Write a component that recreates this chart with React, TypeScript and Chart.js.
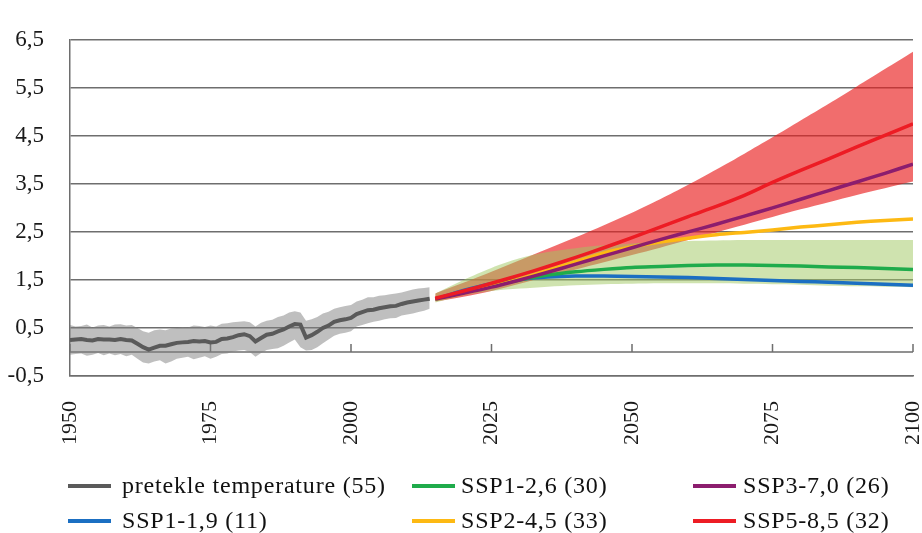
import React, { useEffect, useRef } from 'react';
import { Chart, registerables } from 'chart.js';

Chart.register(...registerables);

// ---------- data ----------
const histYears = [
  1950, 1951, 1952, 1953, 1954, 1955, 1956, 1957, 1958, 1959,
  1960, 1961, 1962, 1963, 1964, 1965, 1966, 1967, 1968, 1969,
  1970, 1971, 1972, 1973, 1974, 1975, 1976, 1977, 1978, 1979,
  1980, 1981, 1982, 1983, 1984, 1985, 1986, 1987, 1988, 1989,
  1990, 1991, 1992, 1993, 1994, 1995, 1996, 1997, 1998, 1999,
  2000, 2001, 2002, 2003, 2004, 2005, 2006, 2007, 2008, 2009,
  2010, 2011, 2012, 2013, 2014,
];
const histMean = [
  0.25, 0.26, 0.27, 0.25, 0.24, 0.27, 0.26, 0.26, 0.25, 0.27,
  0.25, 0.24, 0.17, 0.10, 0.05, 0.09, 0.13, 0.13, 0.16, 0.19,
  0.20, 0.21, 0.23, 0.22, 0.23, 0.20, 0.21, 0.27, 0.28, 0.31,
  0.35, 0.37, 0.33, 0.22, 0.29, 0.36, 0.38, 0.43, 0.47, 0.53,
  0.58, 0.57, 0.30, 0.35, 0.42, 0.50, 0.55, 0.63, 0.66, 0.68,
  0.71, 0.79, 0.83, 0.87, 0.88, 0.91, 0.93, 0.95, 0.96, 1.00,
  1.03, 1.05, 1.07, 1.09, 1.11,
];
const histUpper = [
  0.56, 0.53, 0.54, 0.57, 0.51, 0.55, 0.56, 0.53, 0.57, 0.58,
  0.55, 0.56, 0.50, 0.43, 0.40, 0.45, 0.47, 0.45, 0.49, 0.50,
  0.52, 0.51, 0.55, 0.54, 0.52, 0.55, 0.53, 0.59, 0.60, 0.62,
  0.63, 0.64, 0.62, 0.53, 0.61, 0.65, 0.67, 0.73, 0.76, 0.82,
  0.85, 0.82, 0.65, 0.68, 0.73, 0.80, 0.84, 0.90, 0.93, 0.96,
  0.98, 1.05, 1.09, 1.14, 1.14, 1.17, 1.18, 1.20, 1.22, 1.24,
  1.27, 1.30, 1.32, 1.33, 1.35,
];
const histLower = [
  -0.06, -0.04, -0.03, -0.08, -0.06, -0.02, -0.07, -0.03, -0.07, -0.04,
  -0.09, -0.06, -0.14, -0.22, -0.24, -0.20, -0.17, -0.24, -0.20, -0.14,
  -0.12, -0.10, -0.15, -0.12, -0.09, -0.14, -0.10, -0.04, -0.03, 0.01,
  0.03, 0.04, 0.00, -0.10, -0.02, 0.04, 0.06, 0.08, 0.13, 0.20,
  0.26, 0.10, 0.03, 0.04, 0.10, 0.18, 0.26, 0.34, 0.38, 0.40,
  0.43, 0.53, 0.56, 0.60, 0.63, 0.65, 0.68, 0.70, 0.71, 0.76,
  0.78, 0.80, 0.83, 0.86, 0.90,
];

const projYears = [
  2015, 2020, 2025, 2030, 2035, 2040, 2045, 2050, 2055,
  2060, 2065, 2070, 2075, 2080, 2085, 2090, 2095, 2100,
];
const ssp119 = [1.10, 1.28, 1.42, 1.51, 1.56, 1.58, 1.58, 1.57, 1.56, 1.55, 1.53, 1.51, 1.49, 1.47, 1.45, 1.43, 1.41, 1.39];
const ssp126 = [1.10, 1.25, 1.38, 1.50, 1.60, 1.67, 1.72, 1.76, 1.78, 1.80, 1.81, 1.81, 1.80, 1.79, 1.77, 1.76, 1.74, 1.72];
const ssp245 = [1.10, 1.22, 1.36, 1.52, 1.70, 1.88, 2.06, 2.19, 2.29, 2.37, 2.44, 2.49, 2.54, 2.60, 2.65, 2.70, 2.74, 2.77];
const ssp370 = [1.10, 1.22, 1.35, 1.50, 1.66, 1.83, 2.00, 2.17, 2.34, 2.50, 2.66, 2.83, 3.00, 3.18, 3.36, 3.54, 3.72, 3.91];
const ssp585 = [1.12, 1.27, 1.43, 1.60, 1.78, 1.97, 2.17, 2.38, 2.60, 2.82, 3.03, 3.26, 3.53, 3.78, 4.02, 4.27, 4.51, 4.75];
const ssp126Upper = [1.22, 1.50, 1.75, 1.95, 2.08, 2.16, 2.22, 2.26, 2.29, 2.31, 2.32, 2.33, 2.33, 2.33, 2.33, 2.33, 2.33, 2.33];
const ssp126Lower = [1.03, 1.18, 1.27, 1.32, 1.36, 1.39, 1.41, 1.42, 1.43, 1.43, 1.43, 1.42, 1.41, 1.40, 1.38, 1.37, 1.36, 1.35];
const ssp585Upper = [1.22, 1.44, 1.67, 1.91, 2.15, 2.39, 2.64, 2.90, 3.18, 3.48, 3.80, 4.13, 4.47, 4.82, 5.17, 5.53, 5.89, 6.25];
const ssp585Lower = [1.05, 1.15, 1.27, 1.42, 1.57, 1.72, 1.87, 2.02, 2.17, 2.33, 2.49, 2.65, 2.81, 2.97, 3.12, 3.27, 3.41, 3.55];

const xTicks = [1950, 1975, 2000, 2025, 2050, 2075, 2100];
const yTicks = [-0.5, 0.5, 1.5, 2.5, 3.5, 4.5, 5.5, 6.5];
const yTickLabels = ['-0,5', '0,5', '1,5', '2,5', '3,5', '4,5', '5,5', '6,5'];

const legendLabels = [
  'pretekle temperature (55)',
  'SSP1-1,9 (11)',
  'SSP1-2,6 (30)',
  'SSP2-4,5 (33)',
  'SSP3-7,0 (26)',
  'SSP5-8,5 (32)',
];

// ---------- styles ----------
const C_HIST = '#5a5a5a';
const C_BLUE = '#1b6fc2';
const C_GREEN = '#1fab4b';
const C_YELLOW = '#fdb913';
const C_PURPLE = '#8c1d6e';
const C_RED = '#ed1c24';
const legendColors = [C_HIST, C_BLUE, C_GREEN, C_YELLOW, C_PURPLE, C_RED];
const GRID = '#6e6e6e';
const FONT = '"Liberation Serif", "Times New Roman", serif';

const pts = (xs: number[], ys: number[]) => xs.map((x, i) => ({ x, y: ys[i] }));

const zeroLinePlugin = {
  id: 'zeroLine',
  beforeDatasetsDraw(chart: any) {
    const { ctx, chartArea, scales } = chart;
    const y0 = scales.y.getPixelForValue(0);
    ctx.save();
    ctx.strokeStyle = GRID;
    ctx.lineWidth = 1.5;
    ctx.beginPath();
    ctx.moveTo(chartArea.left, y0);
    ctx.lineTo(chartArea.right, y0);
    xTicks.forEach((t) => {
      const x = scales.x.getPixelForValue(t);
      ctx.moveTo(x, y0);
      ctx.lineTo(x, y0 - 8);
    });
    ctx.stroke();
    ctx.restore();
  },
};

const legendPlugin = {
  id: 'customLegend',
  afterDraw(chart: any) {
    const { ctx } = chart;
    const cols = [
      { lx: 68, tx: 122 },
      { lx: 412, tx: 461 },
      { lx: 693, tx: 743 },
    ];
    const rows = [486, 521];
    ctx.save();
    ctx.font = `24px ${FONT}`;
    try {
      (ctx as any).letterSpacing = '0.8px';
    } catch (e) {
      /* ignore */
    }
    ctx.textBaseline = 'middle';
    ctx.textAlign = 'left';
    legendLabels.forEach((label, i) => {
      const col = cols[Math.floor(i / 2)];
      const y = rows[i % 2];
      ctx.strokeStyle = legendColors[i];
      ctx.lineWidth = 4;
      ctx.beginPath();
      ctx.moveTo(col.lx, y);
      ctx.lineTo(col.lx + 43, y);
      ctx.stroke();
      ctx.fillStyle = '#111111';
      ctx.fillText(label, col.tx, y + 1);
    });
    ctx.restore();
  },
};

export default function App() {
  const ref = useRef<HTMLCanvasElement | null>(null);

  useEffect(() => {
    document.body.style.margin = '0';
    if (!ref.current) return;
    const band = (data: any[], color: string, order: number) => ({
      data,
      borderWidth: 0,
      pointRadius: 0,
      backgroundColor: color,
      fill: '+1',
      tension: 0.3,
      order,
    });
    const lower = (data: any[], order: number) => ({
      data,
      borderWidth: 0,
      pointRadius: 0,
      fill: false,
      tension: 0.3,
      order,
    });
    const line = (data: any[], color: string, order: number, width = 3.5, tension = 0.3) => ({
      data,
      borderColor: color,
      borderWidth: width,
      pointRadius: 0,
      fill: false,
      tension,
      order,
    });

    const chart = new Chart(ref.current, {
      type: 'line',
      data: {
        datasets: [
          { ...band(pts(histYears, histUpper), 'rgba(128,128,128,0.5)', 20), tension: 0 },
          { ...lower(pts(histYears, histLower), 19), tension: 0 },
          band(pts(projYears, ssp585Upper), 'rgba(233,30,30,0.65)', 18),
          lower(pts(projYears, ssp585Lower), 17),
          band(pts(projYears, ssp126Upper), 'rgba(160,200,95,0.5)', 16),
          lower(pts(projYears, ssp126Lower), 15),
          line(pts(histYears, histMean), C_HIST, 7, 4, 0),
          line(pts(projYears, ssp119), C_BLUE, 6),
          line(pts(projYears, ssp126), C_GREEN, 5),
          line(pts(projYears, ssp245), C_YELLOW, 4),
          line(pts(projYears, ssp370), C_PURPLE, 3),
          line(pts(projYears, ssp585), C_RED, 2),
        ] as any,
      },
      options: {
        animation: false,
        responsive: false,
        maintainAspectRatio: false,
        layout: { padding: { left: 0, right: 9, top: 21, bottom: 77 } },
        plugins: {
          legend: { display: false },
          tooltip: { enabled: false },
        },
        scales: {
          x: {
            type: 'linear',
            min: 1950,
            max: 2100,
            grid: { display: false, drawTicks: false },
            border: { display: true, color: GRID, width: 1.5 },
            afterBuildTicks: (s: any) => {
              s.ticks = xTicks.map((v) => ({ value: v }));
            },
            afterFit: (s: any) => {
              s.height = 80;
              s.paddingLeft = 0;
              s.paddingRight = 0;
            },
            ticks: {
              minRotation: 90,
              maxRotation: 90,
              padding: 25,
              color: '#1a1a1a',
              font: { family: FONT, size: 22 },
              callback: (v: any) => String(v),
            },
          },
          y: {
            type: 'linear',
            min: -0.5,
            max: 6.5,
            grid: { color: GRID, lineWidth: 1.5, drawTicks: false },
            border: { display: true, color: GRID, width: 1.5 },
            afterBuildTicks: (s: any) => {
              s.ticks = yTicks.map((v) => ({ value: v }));
            },
            afterFit: (s: any) => {
              s.width = 70;
            },
            ticks: {
              padding: 26,
              color: '#1a1a1a',
              font: { family: FONT, size: 23 },
              callback: (_v: any, i: number) => yTickLabels[i],
            },
          },
        },
      } as any,
      plugins: [zeroLinePlugin, legendPlugin],
    });
    return () => chart.destroy();
  }, []);

  return (
    <div style={{ position: 'absolute', left: 0, top: 0, width: 922, height: 533 }}>
      <canvas ref={ref} width={922} height={533} style={{ width: 922, height: 533 }} />
    </div>
  );
}
